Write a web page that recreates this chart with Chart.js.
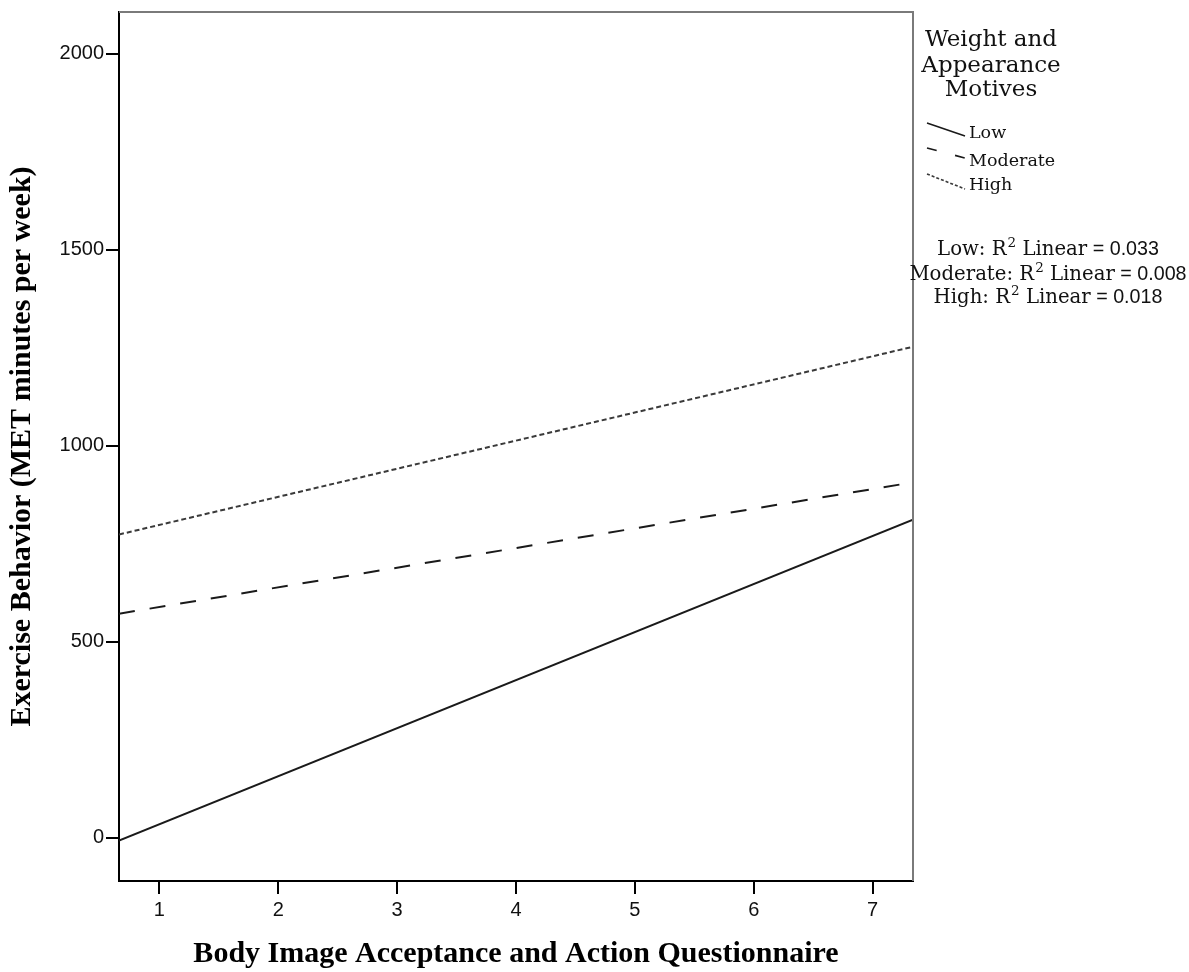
<!DOCTYPE html>
<html>
<head>
<meta charset="utf-8">
<script src="https://cdn.jsdelivr.net/npm/chart.js@4.4.1/dist/chart.umd.min.js"></script>
<style>
  html, body { margin: 0; padding: 0; background: #fff; }
  #wrap { width: 1189px; height: 972px; }
</style>
</head>
<body>
<div id="wrap"><canvas id="c" width="1189" height="972"></canvas></div>
<script>
// ---- Data ----
const xEnds = [0.66, 7.34];
const lowValues = [-7, 812];
const moderateValues = [572, 907];
const highValues = [774, 1253];
const seriesLabels = ['Low', 'Moderate', 'High'];
const rSquared = ['0.033', '0.008', '0.018'];
const xTickValues = [1, 2, 3, 4, 5, 6, 7];
const yTickValues = [0, 500, 1000, 1500, 2000];
const legendTitle = ['Weight and', 'Appearance', 'Motives'];
const xTitle = 'Body Image Acceptance and Action Questionnaire';
const yTitle = 'Exercise Behavior (MET minutes per week)';

function pts(xs, ys) { return xs.map((x, i) => ({ x: x, y: ys[i] })); }

const styles = [
  { color: '#1a1a1a', dash: [] },
  { color: '#1a1a1a', dash: [16, 15] },
  { color: '#3a3a3a', dash: [5, 3] }
];
const seriesValues = [lowValues, moderateValues, highValues];

const datasets = seriesLabels.map((lab, i) => ({
  label: lab,
  data: pts(xEnds, seriesValues[i]),
  showLine: true,
  borderColor: styles[i].color,
  borderDash: styles[i].dash,
  borderWidth: 2,
  pointRadius: 0,
  fill: false,
  tension: 0
}));

const sideLegend = {
  id: 'sideLegend',
  afterDraw(chart) {
    const ctx = chart.ctx;
    const ca = chart.chartArea;
    ctx.save();
    // top and right frame
    ctx.strokeStyle = '#7a7a7a';
    ctx.lineWidth = 2;
    ctx.beginPath();
    ctx.moveTo(ca.left, ca.top);
    ctx.lineTo(ca.right, ca.top);
    ctx.lineTo(ca.right, ca.bottom);
    ctx.stroke();

    // legend title
    ctx.fillStyle = '#111';
    ctx.textAlign = 'center';
    ctx.textBaseline = 'alphabetic';
    ctx.font = '23px "DejaVu Serif"';
    const titleBase = [46, 72, 96];
    legendTitle.forEach((t, i) => ctx.fillText(t, 991, titleBase[i]));

    // legend entries
    const sampleY = [[123, 136], [148, 158], [174, 189]];
    const textBase = [138, 166, 190];
    ctx.font = '17.5px "DejaVu Serif"';
    ctx.textAlign = 'left';
    chart.data.datasets.forEach((ds, i) => {
      ctx.strokeStyle = ds.borderColor;
      ctx.lineWidth = 1.6;
      ctx.setLineDash(i === 1 ? [10, 19] : (i === 2 ? [3, 2] : []));
      ctx.beginPath();
      ctx.moveTo(927, sampleY[i][0]);
      ctx.lineTo(965, sampleY[i][1]);
      ctx.stroke();
      ctx.setLineDash([]);
      ctx.fillStyle = '#111';
      ctx.fillText(ds.label, 969, textBase[i]);
    });

    // R squared lines
    const rBase = [255, 280, 303];
    const serif = '19.7px "DejaVu Serif"';
    const sup = '13.5px "DejaVu Serif"';
    const sans = '19.7px "Liberation Sans", Arial, sans-serif';
    chart.data.datasets.forEach((ds, i) => {
      const p1 = ds.label + ': R';
      const p2 = '2';
      const p3 = ' Linear';
      const p4 = ' = ' + rSquared[i];
      ctx.font = serif; const w1 = ctx.measureText(p1).width; const w3 = ctx.measureText(p3).width;
      ctx.font = sup; const w2 = ctx.measureText(p2).width + 1;
      ctx.font = sans; const w4 = ctx.measureText(p4).width;
      let x = 1048 - (w1 + w2 + w3 + w4) / 2;
      const y = rBase[i];
      ctx.textAlign = 'left';
      ctx.fillStyle = '#111';
      ctx.font = serif; ctx.fillText(p1, x, y); x += w1;
      ctx.font = sup; ctx.fillText(p2, x + 1, y - 8); x += w2;
      ctx.font = serif; ctx.fillText(p3, x, y); x += w3;
      ctx.font = sans; ctx.fillText(p4, x, y);
    });
    ctx.restore();
  }
};

new Chart(document.getElementById('c'), {
  type: 'scatter',
  data: { datasets: datasets },
  options: {
    responsive: false,
    animation: false,
    devicePixelRatio: 1,
    layout: { padding: { left: 0, right: 276, top: 11, bottom: 0 } },
    plugins: { legend: { display: false }, tooltip: { enabled: false } },
    scales: {
      x: {
        type: 'linear',
        min: 0.66,
        max: 7.34,
        afterBuildTicks: (s) => { s.ticks = xTickValues.map(v => ({ value: v })); },
        afterFit: (s) => { s.height = 91; },
        border: { display: true, color: '#000', width: 2 },
        grid: { drawOnChartArea: false, drawTicks: true, tickLength: 13, color: '#000', lineWidth: 2 },
        ticks: {
          color: '#111',
          padding: 4,
          maxRotation: 0,
          autoSkip: false,
          font: { family: '"Liberation Sans", Arial, sans-serif', size: 20 },
          callback: (v) => String(v)
        },
        title: {
          display: true,
          text: xTitle,
          color: '#000',
          font: { family: '"Liberation Serif", "Times New Roman", serif', size: 30, weight: 'bold' },
          padding: { top: 0, bottom: 0 }
        }
      },
      y: {
        type: 'linear',
        min: -110,
        max: 2107,
        afterBuildTicks: (s) => { s.ticks = yTickValues.map(v => ({ value: v })); },
        afterFit: (s) => { s.width = 119; },
        border: { display: true, color: '#000', width: 2 },
        grid: { drawOnChartArea: false, drawTicks: true, tickLength: 13, color: '#000', lineWidth: 2 },
        ticks: {
          color: '#111',
          padding: 2,
          autoSkip: false,
          font: { family: '"Liberation Sans", Arial, sans-serif', size: 20, lineHeight: 1 },
          callback: (v) => String(v)
        },
        title: {
          display: true,
          text: yTitle,
          color: '#000',
          font: { family: '"Liberation Serif", "Times New Roman", serif', size: 30, weight: 'bold' },
          padding: { top: 4, bottom: 0 }
        }
      }
    }
  },
  plugins: [sideLegend]
});
</script>
</body>
</html>
